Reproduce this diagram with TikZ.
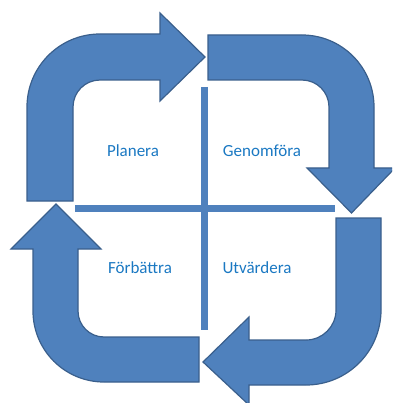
\documentclass[tikz,border=0pt]{standalone}
\usepackage{fontspec}
\setmainfont{Carlito}
\definecolor{arrfill}{HTML}{4F81BD}
\definecolor{arrline}{HTML}{3A5F8C}
\definecolor{txtblue}{HTML}{1A78C2}
\tikzset{
  bentarrow/.style={fill=arrfill, draw=arrline, line width=1.2pt, line join=miter},
  crossline/.style={draw=arrfill, line width=7pt},
  label/.style={text=txtblue, font=\fontsize{17}{20}\selectfont, inner sep=0pt}
}
\begin{document}
\begin{tikzpicture}[x=1pt,y=1pt]
\useasboundingbox (0,0) rectangle (392,-403);
\clip (0,0) rectangle (392,-403);
% top-left arrow
\draw[bentarrow] (27,-201) -- (27,-107) arc[start angle=180, end angle=90, radius=73]
  -- (160,-34) -- (160,-13) -- (205,-57) -- (160,-101) -- (160,-80) -- (100,-80)
  arc[start angle=90, end angle=180, radius=27] -- (73,-201) -- cycle;
% top-right arrow
\draw[bentarrow] (208,-35) -- (302,-35) arc[start angle=90, end angle=0, radius=72]
  -- (374,-168) -- (395,-168) -- (351.5,-213) -- (307,-168) -- (329,-168) -- (329,-107)
  arc[start angle=0, end angle=90, radius=27] -- (208,-80) -- cycle;
% bottom-right arrow
\draw[bentarrow] (381,-218) -- (381,-310) arc[start angle=0, end angle=-90, radius=75]
  -- (249,-385) -- (249,-405) -- (203,-362) -- (249,-317) -- (249,-340) -- (306,-340)
  arc[start angle=-90, end angle=0, radius=30] -- (336,-218) -- cycle;
% bottom-left arrow
\draw[bentarrow] (199,-382) -- (104,-382) arc[start angle=-90, end angle=-180, radius=71]
  -- (33,-249) -- (11,-249) -- (56,-204) -- (101,-249) -- (78,-249) -- (78,-311)
  arc[start angle=180, end angle=270, radius=26] -- (199,-337) -- cycle;
% cross
\coordinate (hl) at (75,-208);
\coordinate (hr) at (335,-208);
\coordinate (vt) at (204.5,-87);
\coordinate (vb) at (204.5,-330);
\draw[crossline] (hl) -- (hr);
\draw[crossline] (vt) -- (vb);
% labels
\node[label] (planera) at (133,-151) {Planera};
\node[label] (genomfora) at (262,-151) {Genomföra};
\node[label] (forbattra) at (140,-268) {Förbättra};
\node[label] (utvardera) at (257,-268) {Utvärdera};
\end{tikzpicture}
\end{document}
